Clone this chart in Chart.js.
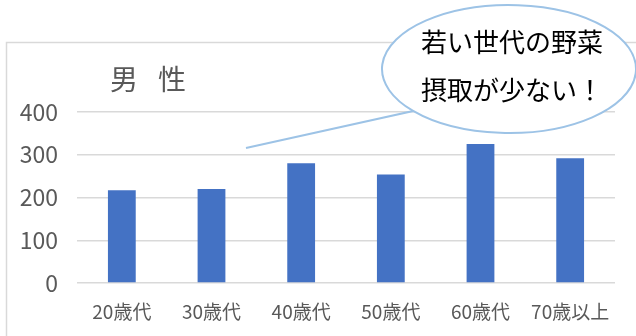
<!DOCTYPE html>
<html><head><meta charset="utf-8">
<script src="https://cdn.jsdelivr.net/npm/chart.js@4"></script>
<style>html,body{margin:0;padding:0;background:#fff;}#wrap{width:636px;height:336px;position:relative;}</style>
</head><body><div id="wrap"><canvas id="c" width="636" height="336"></canvas></div>
<script>
const categories = ["20歳代","30歳代","40歳代","50歳代","60歳代","70歳以上"];
const values = [217, 220, 280, 254, 325, 292];
const yTicks = [0, 100, 200, 300, 400];
const titleChars = ["男", "性"];
const calloutLines = ["若い世代の野菜", "摂取が少ない！"];
const FONT = "'Noto Sans CJK JP', 'Noto Sans', sans-serif";

const decor = {
  id: 'decor',
  beforeDraw(chart) {
    const ctx = chart.ctx;
    ctx.save();
    ctx.strokeStyle = '#d9d9d9';
    ctx.lineWidth = 1.5;
    ctx.strokeRect(6.5, 42.5, 700, 400);
    ctx.fillStyle = '#595959';
    ctx.font = "28px " + FONT;
    ctx.textBaseline = 'middle';
    ctx.textAlign = 'left';
    ctx.fillText(titleChars[0], 110, 79);
    ctx.fillText(titleChars[1], 158, 79);
    ctx.restore();
  },
  afterDraw(chart) {
    const ctx = chart.ctx;
    ctx.save();
    const cx = 509, cy = 69, rx = 127, ry = 64;
    const a1 = Math.atan2((90 - cy) / ry, (388 - cx) / rx);
    const a2 = Math.atan2((111 - cy) / ry, (413 - cx) / rx);
    ctx.beginPath();
    ctx.ellipse(cx, cy, rx, ry, 0, a2, a1 + 2 * Math.PI, false);
    ctx.lineTo(246, 148);
    ctx.closePath();
    ctx.fillStyle = '#ffffff';
    ctx.fill();
    ctx.strokeStyle = '#9dc3e6';
    ctx.lineWidth = 2;
    ctx.stroke();
    ctx.fillStyle = '#000000';
    ctx.font = "26px " + FONT;
    ctx.textAlign = 'left';
    ctx.textBaseline = 'middle';
    ctx.fillText(calloutLines[0], 421, 42);
    ctx.fillText(calloutLines[1], 421, 90);
    ctx.restore();
  }
};

new Chart(document.getElementById('c'), {
  type: 'bar',
  data: {
    labels: categories,
    datasets: [{
      data: values,
      backgroundColor: '#4472c4',
      borderWidth: 0,
      barPercentage: 0.31,
      categoryPercentage: 1.0
    }]
  },
  options: {
    responsive: false,
    animation: false,
    devicePixelRatio: 1,
    layout: { padding: { top: 112, right: 21, bottom: 13, left: 0 } },
    plugins: { legend: { display: false }, tooltip: { enabled: false }, title: { display: false } },
    scales: {
      x: {
        grid: { display: false },
        border: { display: false },
        ticks: { color: '#595959', font: { size: 19, family: FONT }, padding: 9, maxRotation: 0, autoSkip: false },
        afterFit(s) { s.height = 40; }
      },
      y: {
        min: 0, max: 400,
        afterBuildTicks(s) { s.ticks = yTicks.map(v => ({ value: v })); },
        grid: { color: '#d9d9d9', lineWidth: 1.5, drawTicks: false },
        border: { display: false },
        ticks: { color: '#595959', font: { size: 23, family: FONT }, padding: 19 },
        afterFit(s) { s.width = 77; }
      }
    }
  },
  plugins: [decor]
});
</script>
</body></html>
